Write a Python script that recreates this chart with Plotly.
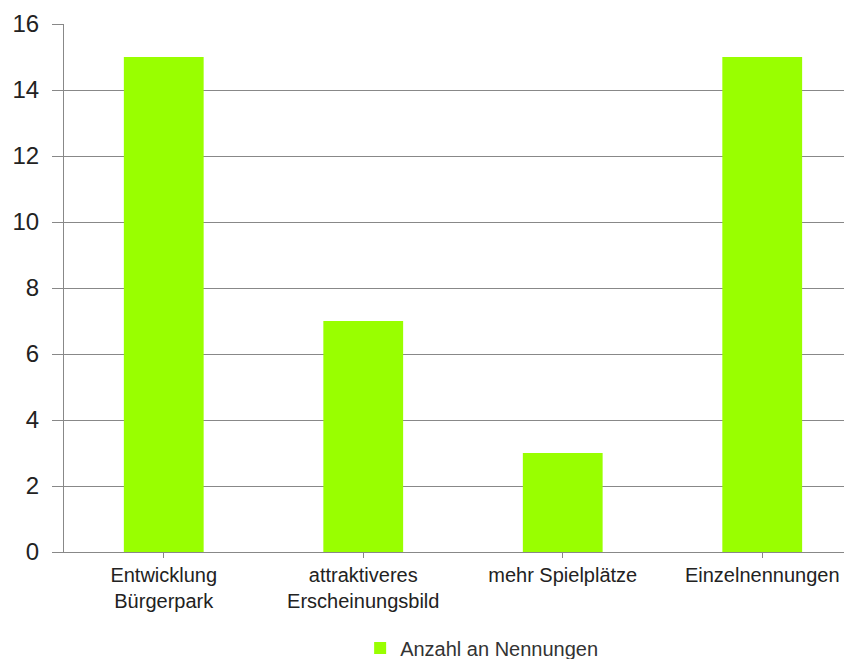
import plotly.graph_objects as go

categories = ["Entwicklung<br>Bürgerpark", "attraktiveres<br>Erscheinungsbild", "mehr Spielplätze", "Einzelnennungen"]
values = [15, 7, 3, 15]
series_name = "Anzahl an Nennungen"
y_ticks = [0, 2, 4, 6, 8, 10, 12, 14, 16]

fig = go.Figure()
fig.add_trace(go.Bar(
    x=list(range(len(categories))), y=values, name=series_name,
    marker=dict(color="#99ff00", line=dict(width=0)), width=0.4,
    showlegend=True,
))

# page body has an 8px margin, so the figure is 8px smaller and offset
fig.update_layout(
    width=844, height=651,
    margin=dict(l=56, r=0, t=16, b=107, autoexpand=False),
    paper_bgcolor="white", plot_bgcolor="white",
    font=dict(family="Liberation Sans, Arial, sans-serif", color="#222222"),
    showlegend=True,
    legend=dict(orientation="h", x=0.530, xanchor="center", yref="paper", y=-0.182, yanchor="middle",
                font=dict(size=20, color="#333333"), itemwidth=30),
)
fig.update_xaxes(
    tickmode="array", tickvals=list(range(len(categories))), ticktext=categories,
    range=[-0.5, 3.45], tickson="boundaries", ticks="outside", ticklen=5, tickcolor="#888888",
    showline=True, linecolor="#888888", linewidth=1, showgrid=False, automargin=False,
    tickfont=dict(size=20, color="#222222"), zeroline=False,
)
fig.update_yaxes(
    range=[0, 16], tickmode="array", tickvals=y_ticks, automargin=False,
    ticks="outside", ticklen=11, tickcolor="#888888", ticklabelstandoff=8,
    showline=True, linecolor="#888888", linewidth=1,
    showgrid=True, gridcolor="#888888", gridwidth=1, zeroline=False,
    tickfont=dict(size=24, color="#222222"),
)
fig.write_html("out.html")
